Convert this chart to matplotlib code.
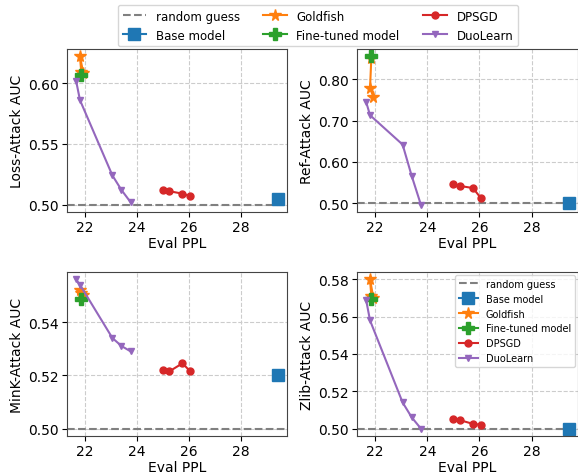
import matplotlib
matplotlib.use("Agg")
import matplotlib.pyplot as plt

# data
attacks = ["Loss-Attack AUC", "Ref-Attack AUC", "MinK-Attack AUC", "Zlib-Attack AUC"]

base_x = [29.45]
base_y = {"Loss": [0.505], "Ref": [0.500], "MinK": [0.520], "Zlib": [0.500]}

gold_x = [21.85, 21.8, 21.93]
gold_y = {"Loss": [0.609, 0.622, 0.608],
          "Ref": [0.852, 0.778, 0.757],
          "MinK": [0.551, 0.552, 0.550],
          "Zlib": [0.571, 0.580, 0.570]}

ft_x = [21.85]
ft_y = {"Loss": [0.607], "Ref": [0.855], "MinK": [0.5485], "Zlib": [0.5695]}

dp_x = [25.0, 25.25, 25.75, 26.05]
dp_y = {"Loss": [0.512, 0.511, 0.509, 0.507],
        "Ref": [0.546, 0.542, 0.537, 0.513],
        "MinK": [0.522, 0.5215, 0.5245, 0.5215],
        "Zlib": [0.505, 0.5045, 0.5025, 0.502]}

duo_x = [21.65, 21.8, 23.05, 23.4, 23.75]
duo_y = {"Loss": [0.602, 0.586, 0.524, 0.512, 0.502],
         "Ref": [0.745, 0.713, 0.642, 0.566, 0.497],
         "MinK": [0.556, 0.554, 0.534, 0.531, 0.529],
         "Zlib": [0.569, 0.558, 0.514, 0.506, 0.500]}

keys = ["Loss", "Ref", "MinK", "Zlib"]
yfmt = {"Loss": [0.50, 0.55, 0.60], "Ref": [0.5, 0.6, 0.7, 0.8],
        "MinK": [0.50, 0.52, 0.54], "Zlib": [0.50, 0.52, 0.54, 0.56, 0.58]}

W, H = 578, 477
fig = plt.figure(figsize=(W / 100, H / 100), dpi=100)

# axes boxes in pixels: left, top, right, bottom
boxes = [(67, 50, 287, 213), (357, 50, 578, 213),
         (67, 273, 287, 437), (357, 273, 578, 437)]

for i, k in enumerate(keys):
    l, t, r, b = boxes[i]
    ax = fig.add_axes([l / W, 1 - b / H, (r - l) / W, (b - t) / H])
    ax.axhline(0.5, color="gray", ls="--", lw=1.5, label="random guess", zorder=1)
    ax.plot(base_x, base_y[k], marker="s", ms=8, color="tab:blue", label="Base model")
    ax.plot(gold_x, gold_y[k], marker="*", ms=8.5, color="tab:orange", label="Goldfish")
    ax.plot(ft_x, ft_y[k], marker="P", ms=8.5, color="tab:green", label="Fine-tuned model")
    ax.plot(dp_x, dp_y[k], marker="o", ms=5, color="tab:red", label="DPSGD")
    ax.plot(duo_x, duo_y[k], marker="v", ms=5, color="tab:purple", label="DuoLearn")
    ax.set_xlim(21.3, 29.78)
    ax.set_xticks([22, 24, 26, 28])
    ax.set_yticks(yfmt[k])
    ax.set_yticklabels([f"{v:.2f}" for v in yfmt[k]])
    ax.set_xlabel("Eval PPL", fontsize=10, labelpad=1)
    ax.set_ylabel(attacks[i], fontsize=10, labelpad=3)
    ax.tick_params(labelsize=10, pad=2.5)
    ax.grid(True, ls="--", color="#cccccc", lw=0.8)
    ax.set_axisbelow(True)
    for s in ax.spines.values():
        s.set_color("#444444")
    if k == "Zlib":
        ax.legend(loc="upper right", fontsize=7, borderaxespad=0.3)
        handles, labels = ax.get_legend_handles_labels()

fig.legend(handles, labels, loc="upper left", bbox_to_anchor=(112 / W, 1.0),
           ncol=3, fontsize=8.5, columnspacing=2.0)

fig.savefig("out.png", dpi=100)
